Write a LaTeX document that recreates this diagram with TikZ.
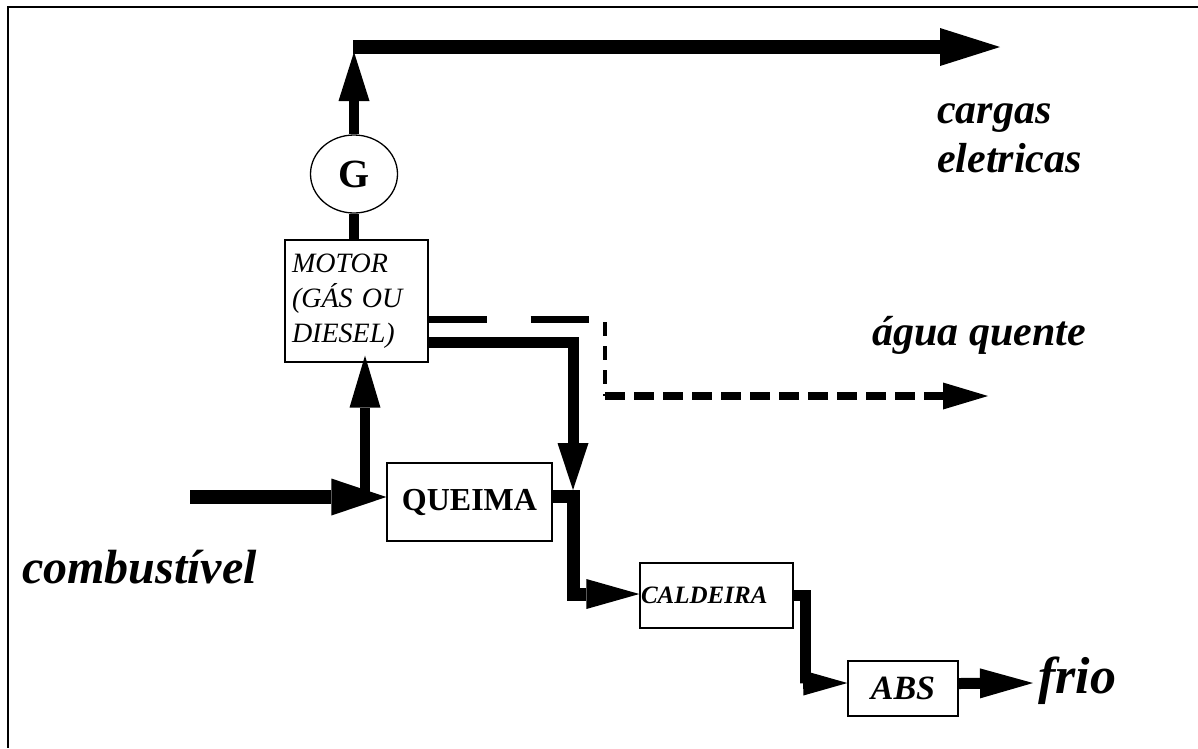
\documentclass[tikz,border=0pt]{standalone}
\usepackage{fontspec}
\setmainfont{Liberation Serif}
\usetikzlibrary{shapes.geometric,arrows.meta,calc}
\tikzset{
  blockbox/.style={rectangle,draw=black,line width=1.3pt,inner sep=2pt},
  genbox/.style={ellipse,draw=black,line width=1.3pt,minimum width=87pt,
    minimum height=78pt,inner sep=0pt,font=\fontsize{40}{44}\selectfont\bfseries},
  fatarrow/.style 2 args={-{Triangle[length=#1,width=#2,line width=0pt]}},
  flowlabel/.style={font=\fontsize{42}{46}\selectfont\bfseries\itshape,
    inner sep=0pt,anchor=base west},
  pipe/.style={line width=#1,line cap=butt,line join=miter},
}

\begin{document}
\begin{tikzpicture}[x=1pt,y=-1pt]
  \useasboundingbox (0,0) rectangle (1198,748);
  \draw[line width=1.5pt] (1198,7) -- (8,7) -- (8,748);

  % blocks
  \node[genbox] (gen) at (354,174) {G};
  \node[blockbox,text width=129pt,inner xsep=7pt,minimum height=122pt,align=left,
    font=\fontsize{28}{35}\selectfont\itshape] (motor) at (356.5,301)
    {MOTOR\\(GÁS OU\\DIESEL)};
  \node[blockbox,minimum width=165pt,minimum height=78pt,
    font=\fontsize{32}{36}\selectfont\bfseries] (queima) at (469.5,502) {QUEIMA};
  \node[blockbox,text width=151pt,inner xsep=1pt,minimum height=65pt,align=left,
    font=\fontsize{25}{28}\selectfont\bfseries\itshape] (caldeira) at (716.5,595.5) {CALDEIRA};
  \node[blockbox,minimum width=110pt,minimum height=55pt,
    font=\fontsize{34}{38}\selectfont\bfseries\itshape] (abs) at (903,688.5) {ABS};

  % labels
  \node[flowlabel] (cargas) at (937,123) {cargas};
  \node[flowlabel] (eletricas) at (937,172) {eletricas};
  \node[flowlabel] (agua) at (872,345) {água quente};
  \node[flowlabel,font=\fontsize{48}{52}\selectfont\bfseries\itshape] (comb) at (22,583) {combustível};
  \node[flowlabel,font=\fontsize{52}{56}\selectfont\bfseries\itshape] (frio) at (1038,693) {frio};

  % free ends and bends
  \coordinate (elec) at (354,47);
  \coordinate (loadout) at (1000,47);
  \coordinate (fuelin) at (190,497);
  \coordinate (feed) at (365,497);
  \coordinate (mix) at (573,490);
  \coordinate (drop1) at (573,594);
  \coordinate (drop2) at (805,683);
  \coordinate (coldout) at (1033,683);
  \coordinate (hot1) at (592,319);
  \coordinate (hot2) at (605,322);
  \coordinate (hot3) at (605,396);
  \coordinate (hotout) at (988,396);

  % electricity
  \draw[pipe=14pt,fatarrow={60pt}{38pt}] ([xshift=-1pt]elec) -- (loadout);
  \draw[pipe=10pt,fatarrow={49pt}{31pt}] (gen) -- ([yshift=-5pt]elec);
  \draw[pipe=10pt] (gen.south) -- (gen.south |- motor.north);

  % fuel
  \draw[pipe=14pt,fatarrow={55pt}{37pt}] (fuelin) -- (fuelin -| queima.west);
  \draw[pipe=10pt,fatarrow={52pt}{31pt},shorten >=-7pt] (feed) -- (feed |- motor.south);

  % exhaust
  \draw[pipe=11pt,fatarrow={47pt}{31pt}] ([yshift=20pt]motor.south east) -| (mix);

  % hot water
  \draw[pipe=7pt,dash pattern=on 58pt off 44pt] ([yshift=-18pt]motor.east) -- (hot1);
  \draw[pipe=4pt,dash pattern=on 14pt off 10pt] (hot2) -- (hot3);
  \draw[pipe=8pt,dash pattern=on 20pt off 9pt,fatarrow={45pt}{27pt}] (hot3) -- (hotout);

  % burner -> boiler -> absorption chiller
  \draw[pipe=13pt,fatarrow={53pt}{30pt}] ([yshift=6pt]queima.east) -| (drop1) -- (drop1 -| caldeira.west);
  \draw[pipe=11pt,fatarrow={44pt}{25pt}] (caldeira.east) -| (drop2) -- (drop2 -| abs.west);
  \draw[pipe=11pt,fatarrow={53pt}{30pt}] ([yshift=5pt]abs.east) -- (coldout);
\end{tikzpicture}
\end{document}
